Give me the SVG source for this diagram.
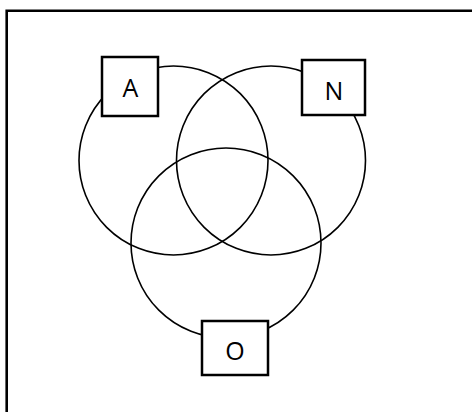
<svg xmlns="http://www.w3.org/2000/svg" width="472" height="412" viewBox="0 0 472 412">
<style>
.c{fill:none;stroke:#000;stroke-width:1.6}
.b{fill:#fff;stroke:#000;stroke-width:2.5}
.t{font-family:"Open Sans","Liberation Sans",Arial,sans-serif;font-size:25px;text-anchor:middle;fill:#000}
</style>
<rect x="0" y="0" width="472" height="412" fill="#fff"/>
<path d="M6.7,420 V10.8 H480" fill="none" stroke="#000" stroke-width="2.6"/>
<g id="circles">
<circle class="c" cx="173.5" cy="160.5" r="94.5"/>
<circle class="c" cx="271" cy="160.5" r="94.5"/>
<circle class="c" cx="226" cy="243" r="95"/>
</g>
<g id="nodeA"><rect class="b" x="102" y="57" width="56" height="59"/><text class="t" x="130.5" y="96.5">A</text></g>
<g id="nodeN"><rect class="b" x="302" y="60" width="63" height="55"/><text class="t" x="334" y="100">N</text></g>
<g id="nodeO"><rect class="b" x="202" y="321" width="66" height="54"/><text class="t" x="235" y="360">O</text></g>
</svg>
